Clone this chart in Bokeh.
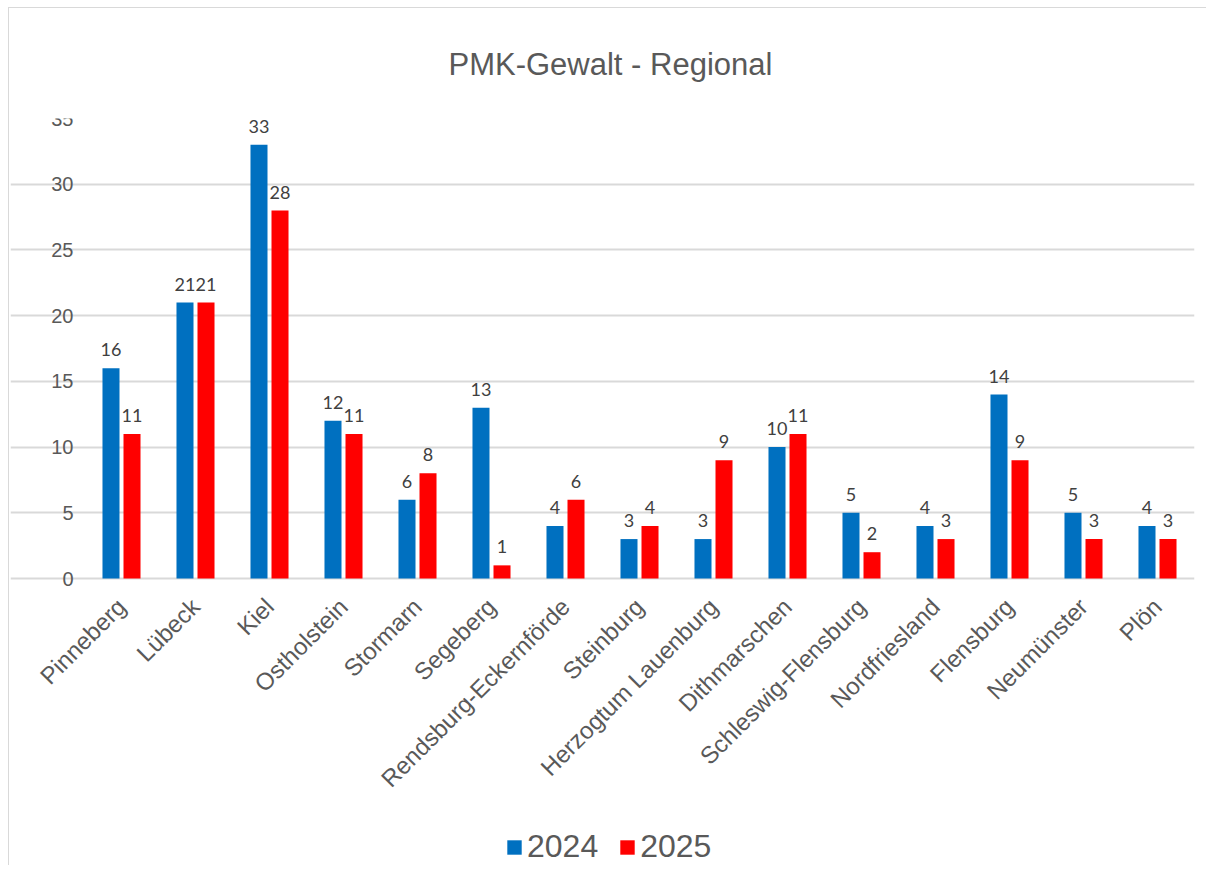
from math import pi
from bokeh.plotting import figure
from bokeh.models import ColumnDataSource, Legend, LegendItem, FactorRange, LabelSet, FixedTicker
from bokeh.core.properties import value
from bokeh.transform import dodge
from bokeh.embed import file_html
from bokeh.resources import INLINE

regions = ["Pinneberg", "Lübeck", "Kiel", "Ostholstein", "Stormarn", "Segeberg",
           "Rendsburg-Eckernförde", "Steinburg", "Herzogtum Lauenburg", "Dithmarschen",
           "Schleswig-Flensburg", "Nordfriesland", "Flensburg", "Neumünster", "Plön"]
v2024 = [16, 21, 33, 12, 6, 13, 4, 3, 3, 10, 5, 4, 14, 5, 4]
v2025 = [11, 21, 28, 11, 8, 1, 6, 4, 9, 11, 2, 3, 9, 3, 3]
y_ticks = [0, 5, 10, 15, 20, 25, 30, 35]

src = ColumnDataSource(dict(r=regions, a=v2024, b=v2025,
                            la=[str(v) for v in v2024], lb=[str(v) for v in v2025]))

# plot area: 460 px for 0..35, plus 287 px below zero for the category labels and legend
bars_px, below_px = 460, 287
y_max = 35
y_min = -below_px * y_max / bars_px
cat_px = 74
n = len(regions)

# one blank slot on the left keeps the rotated first label inside the drawing area
p = figure(x_range=FactorRange(" ", *regions), y_range=(y_min, y_max),
           frame_width=cat_px * (n + 1), frame_height=bars_px + below_px,
           output_backend="svg", toolbar_location=None,
           min_border_left=1, min_border_right=12, min_border_top=110, min_border_bottom=0,
           title="PMK-Gewalt - Regional")
p.styles = {"margin-left": "8px", "margin-top": "7px",
            "border-left": "1px solid #d9d9d9", "border-top": "1px solid #d9d9d9"}

p.title.align = "left"
p.title.text_font = "Liberation Sans"
p.title.text_font_size = "31px"
p.title.text_font_style = "normal"
p.title.text_color = "#595959"
p.title.standoff = 73
p.title.offset = 438

bw = 0.23
r1 = p.vbar(x=dodge("r", -0.142, range=p.x_range), top="a", width=bw, source=src,
            fill_color="#0070c0", line_color=None)
r2 = p.vbar(x=dodge("r", 0.142, range=p.x_range), top="b", width=bw, source=src,
            fill_color="#ff0000", line_color=None)

for col, lab, off in (("a", "la", -0.142), ("b", "lb", 0.142)):
    ls = LabelSet(x=dodge("r", off, range=p.x_range), y=col, text=lab, source=src,
                  text_align="center", text_baseline="bottom", y_offset=12,
                  text_font_size=value("18px"), text_color=value("#404040"),
                  text_font=value("Lato"))
    p.add_layout(ls)

p.outline_line_color = None
p.xgrid.grid_line_color = None
p.ygrid.grid_line_color = "#d9d9d9"
p.ygrid.grid_line_width = 2
p.ygrid.bounds = (1, n + 1)

p.yaxis.fixed_location = 1
p.yaxis.ticker = FixedTicker(ticks=y_ticks)
p.yaxis.axis_line_color = None
p.yaxis.major_tick_line_color = None
p.yaxis.minor_tick_line_color = None
p.yaxis.major_label_text_font = "Liberation Sans"
p.yaxis.major_label_text_font_size = "20px"
p.yaxis.major_label_text_color = "#595959"
p.yaxis.major_label_standoff = 5

p.xaxis.fixed_location = 0
p.xaxis.axis_line_color = None
p.xaxis.major_tick_line_color = None
p.xaxis.minor_tick_line_color = None
p.xaxis.major_label_orientation = pi / 4
p.xaxis.major_label_text_font = "Liberation Sans"
p.xaxis.major_label_text_font_size = "24px"
p.xaxis.major_label_text_color = "#595959"
p.xaxis.major_label_standoff = 18
p.x_range.range_padding = 0
p.x_range.group_padding = 0

legend = Legend(items=[LegendItem(label="2024", renderers=[r1]),
                       LegendItem(label="2025", renderers=[r2])],
                orientation="horizontal", location=(495, 0),
                label_text_font="Liberation Sans", label_text_font_size="32px",
                label_text_color="#595959", glyph_width=18, glyph_height=18,
                spacing=20, label_standoff=4, border_line_color=None,
                background_fill_alpha=0, margin=0, padding=0)
p.add_layout(legend, "center")

open("out.html", "w").write(file_html(p, INLINE))
